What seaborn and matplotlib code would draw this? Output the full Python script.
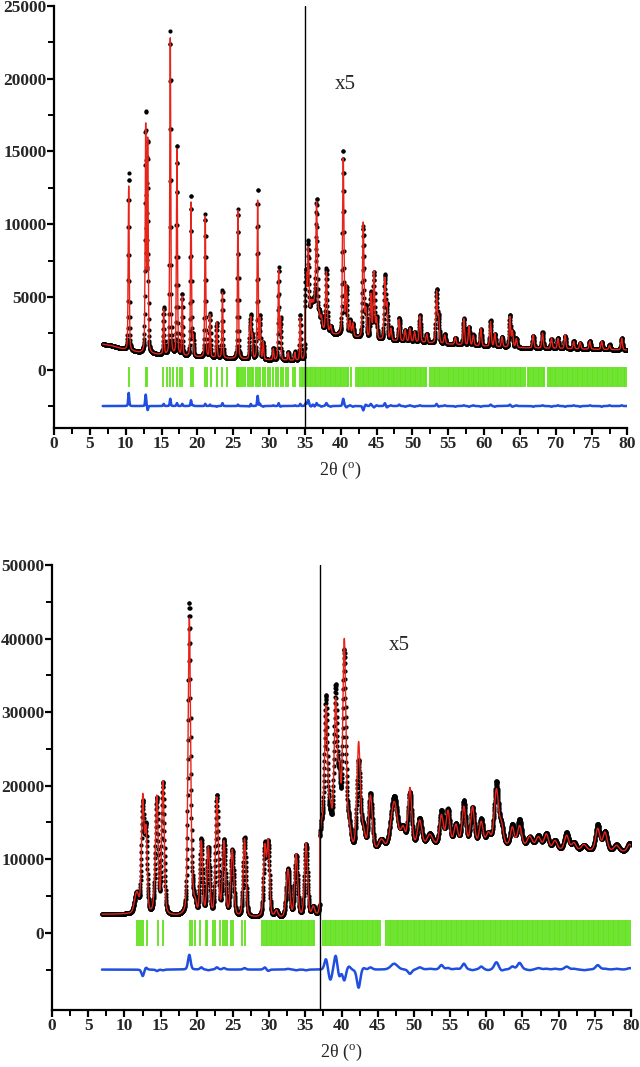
import numpy as np
import pandas as pd

import matplotlib
matplotlib.use("Agg")
import matplotlib.pyplot as plt
from matplotlib.ticker import FixedLocator, MultipleLocator

import seaborn as sns

# ---------------------------------------------------------------
# pattern 1 (top).  values above 35 deg are shown x5 (display units)
# ---------------------------------------------------------------
top_bg_x = [6.8, 8.0, 9.0, 10.0, 12.0, 14.0, 16.0, 20.0, 25.0, 30.0, 34.98,
            35.0, 36.0, 37.5, 39.0, 42.0, 46.0, 50.0, 55.0, 60.0, 65.0, 70.0, 80.0]
top_bg_y = [1750, 1650, 1500, 1350, 1150, 1050, 950, 850, 750, 650, 600,
            2900, 3200, 2700, 2400, 2200, 2000, 1900, 1750, 1600, 1500, 1450, 1350]

top_pos = [10.42, 12.79, 13.07, 15.30, 16.22, 17.15, 17.89, 19.11, 19.40, 21.10,
           21.76, 22.69, 23.50, 25.66, 27.30, 27.45, 27.66, 28.41, 28.73, 29.19,
           30.60, 31.34, 31.60, 32.68, 33.60, 34.35,
           35.15, 35.47, 35.85, 36.10, 36.35, 36.63, 37.00, 37.30, 38.00, 38.60,
           40.35, 40.80, 41.30, 41.70, 43.14, 43.50, 44.20, 44.63, 45.00, 46.16,
           46.45, 47.00, 48.16, 49.00, 49.65, 50.30, 51.05, 52.00, 53.37, 53.65,
           54.50, 56.00, 57.18, 57.90, 58.50, 59.55, 60.90, 61.50, 62.50, 63.60,
           63.95, 64.50, 66.85, 68.15, 69.40, 70.30, 71.30, 72.50, 73.40, 74.75,
           76.40, 77.50, 79.20]
top_calc = [11300, 15600, 14600, 3100, 21800, 14300, 4100, 10700, 1300, 9700,
            2900, 2450, 4500, 10200, 1500, 2600, 1600, 11000, 2700, 1200,
            750, 6100, 2800, 550, 550, 2950,
            3500, 5200, 1300, 1200, 1400, 8400, 900, 800, 4100, 500,
            12200, 3300, 1000, 900, 7900, 1900, 3000, 4600, 1400, 4200,
            2400, 800, 1500, 800, 900, 700, 1800, 600, 3500, 1800,
            600, 500, 1800, 1300, 700, 1200, 1700, 900, 700, 2100,
            1100, 600, 900, 1050, 700, 700, 950, 500, 450, 550,
            550, 300, 800]
top_obs = [12200, 16400, 14300, 3250, 22300, 14500, 4250, 11100, 1350, 9850,
           3000, 2400, 4700, 10300, 1450, 2750, 1600, 11700, 2850, 1150,
           800, 6300, 2750, 550, 600, 3100,
           3700, 5600, 1250, 1300, 1350, 8600, 950, 750, 4300, 450,
           12700, 3200, 1050, 850, 7600, 2000, 3150, 4500, 1450, 4400,
           2300, 850, 1600, 750, 950, 650, 1850, 600, 3650, 1750,
           650, 450, 1850, 1250, 750, 1150, 1800, 850, 700, 2200,
           1050, 650, 850, 1100, 650, 750, 900, 550, 400, 600,
           500, 350, 850]
top_fwhm = [0.17] * 26 + [0.24] * 53

top_refl = [float(v) for v in """
10.4 12.8 12.95 15.25 15.7 16.2 16.6 17.1 17.55 17.85 19.15 19.45 21.05 21.3
21.95 22.7 23.4 24.1 25.55 25.7 25.85 26.1 26.4 26.65 27.1 27.4 27.65 27.8
28.2 28.45 28.8 29.2 29.5 29.9 30.2 30.6 30.95 31.3 31.6 32.0 32.4 32.7 33.4
33.6 34.3 34.55 34.8 35.0 35.25 35.45 35.7 35.9 36.15 36.4 36.6 36.85 37.1
37.3 37.55 37.8 38.0 38.25 38.5 38.7 38.95 39.2 39.4 39.65 39.9 40.1 40.35
40.6 40.85 41.05 41.45 42.1 42.35 42.6 42.8 43.05 43.3 43.5 43.75 44.0 44.25
44.45 44.7 44.95 45.2 45.4 45.65 45.9 46.1 46.35 46.6 46.8 47.05 47.3 47.5
47.75 48.0 48.2 48.45 48.7 48.9 49.15 49.4 49.6 49.85 50.1 50.3 50.55 50.8
51.0 51.25 51.5 51.7 51.95 52.5 52.7 52.95 53.2 53.4 53.65 53.9 54.1 54.35
54.7 54.9 55.15 55.4 55.6 55.85 56.1 56.3 56.55 56.8 57.0 57.25 57.5 57.7
57.95 58.2 58.4 58.65 58.9 59.1 59.35 59.6 59.8 60.05 60.3 60.5 60.75 61.0
61.2 61.45 61.7 61.9 62.15 62.4 62.6 62.85 63.1 63.3 63.55 63.8 64.0 64.25
64.5 64.7 64.95 65.2 65.4 65.65 66.1 66.3 66.55 66.8 67.0 67.25 67.5 67.7
67.95 68.2 68.4 68.95 69.2 69.4 69.65 69.9 70.1 70.35 70.6 70.8 71.05 71.3
71.5 71.75 72.0 72.2 72.45 72.7 72.9 73.15 73.4 73.6 73.85 74.1 74.3 74.55
74.8 75.0 75.25 75.5 75.7 75.95 76.2 76.4 76.65 76.9 77.1 77.35 77.6 77.8
78.05 78.3 78.5 78.75 79.0 79.2 79.45 79.7 79.9
""".split()]

# ---------------------------------------------------------------
# pattern 2 (bottom).  values above 37 deg are shown x5
# ---------------------------------------------------------------
bot_bg_x = [6.9, 10.5, 12.0, 17.0, 20.0, 28.0, 32.0, 36.98,
            37.0, 40.0, 45.0, 50.0, 56.0, 62.0, 70.0, 80.0]
bot_bg_y = [2500, 2500, 2400, 2200, 2100, 2000, 1900, 2000,
            11000, 11000, 10800, 11500, 12000, 11800, 11200, 11000]

bot_pos = [11.70, 12.53, 12.98, 14.30, 14.50, 15.33, 18.97, 19.45, 19.80, 20.62,
           21.60, 22.78, 23.76, 24.90, 26.60, 29.40, 29.87, 31.00, 32.60, 33.74,
           35.10, 36.10,
           37.25, 37.85, 38.45, 39.18, 39.70, 40.38, 41.00, 42.36, 43.00, 44.00,
           45.50, 47.27, 48.50, 49.45, 50.80, 52.20, 53.80, 54.70, 55.80, 56.90,
           58.10, 59.30, 60.30, 61.40, 62.10, 63.60, 64.60, 66.00, 67.20, 68.30,
           69.50, 71.10, 72.10, 73.50, 75.40, 76.40, 78.00, 79.80]
bot_calc = [2800, 15500, 11000, 3000, 14000, 18000, 40500, 2000, 1500, 10000,
            9200, 16000, 10000, 9000, 10600, 9300, 10000, 900, 6500, 8500,
            10000, 1200,
            3000, 19000, 5000, 19500, 9000, 28000, 3000, 14500, 2500, 7500,
            1500, 6500, 2500, 8000, 3500, 1500, 4000, 4500, 2500, 5000,
            5000, 3000, 1500, 7500, 2500, 2500, 2800, 1500, 1500, 2000,
            1200, 2000, 1000, 800, 3000, 2500, 800, 1000]
bot_obs = [2800, 14600, 11300, 3000, 13800, 17900, 42500, 2000, 1500, 10300,
           9100, 16300, 10200, 9000, 10800, 9600, 9800, 900, 6600, 8400,
           9900, 1200,
           3000, 20500, 3500, 21500, 8000, 26500, 3500, 12000, 2800, 7800,
           1500, 7300, 2500, 7400, 3800, 1600, 4600, 4700, 2600, 5800,
           4900, 3400, 1400, 8500, 2300, 2900, 3700, 1400, 1700, 2100,
           1300, 2400, 1100, 700, 3600, 2600, 900, 1200]
bot_fwhm = [0.7, 0.4, 0.4, 0.5, 0.4, 0.42, 0.42, 0.35, 0.35, 0.42,
            0.45, 0.45, 0.48, 0.5, 0.45, 0.42, 0.42, 0.5, 0.55, 0.48,
            0.48, 0.45,
            0.45, 0.5, 0.55, 0.5, 0.45, 0.5, 0.6, 0.55, 0.6, 0.6,
            0.9, 1.1, 0.7, 0.6, 0.7, 0.9, 0.6, 0.6, 0.6, 0.6,
            0.6, 0.6, 0.7, 0.7, 0.6, 0.6, 0.7, 0.8, 0.8, 0.7,
            0.7, 0.7, 0.7, 0.8, 0.7, 0.7, 0.8, 0.7]

bot_refl = [float(v) for v in """
11.8 12.05 12.3 12.6 13.1 14.7 15.4 19.05 19.4 19.75 20.4 21.3 21.45 22.2 22.5
23.2 23.6 23.9 24.2 24.7 25.0 26.3 26.65 29.0 29.25 29.5 29.7 29.95 30.2 30.4
30.65 30.9 31.1 31.35 31.6 31.8 32.05 32.3 32.5 32.75 33.0 33.2 33.45 33.7
33.9 34.15 34.4 34.6 34.85 35.1 35.3 35.55 35.8 36.0 36.2 37.4 37.65 37.9
38.1 38.35 38.6 38.8 39.05 39.3 39.5 39.75 40.0 40.2 40.45 40.7 40.9 41.15
41.4 41.6 41.85 42.1 42.3 42.55 42.8 43.0 43.25 43.5 43.7 43.95 44.2 44.4
44.65 44.9 45.1 45.3 46.2 46.45 46.7 46.9 47.15 47.4 47.6 47.85 48.1 48.3
48.55 48.8 49.0 49.25 49.5 49.7 49.95 50.2 50.4 50.65 50.9 51.1 51.35 51.6
51.8 52.05 52.3 52.5 52.75 53.0 53.2 53.45 53.7 53.9 54.15 54.4 54.6 54.85
55.1 55.3 55.55 55.8 56.0 56.25 56.5 56.7 56.95 57.2 57.4 57.65 57.9 58.1
58.35 58.6 58.8 59.05 59.3 59.5 59.75 60.0 60.2 60.45 60.7 60.9 61.15 61.4
61.6 61.85 62.1 62.3 62.55 62.8 63.0 63.25 63.5 63.7 63.95 64.2 64.4 64.65
64.9 65.1 65.35 65.6 65.8 66.05 66.3 66.5 66.75 67.0 67.2 67.45 67.7 67.9
68.15 68.4 68.6 68.85 69.1 69.3 69.55 69.8 70.0 70.25 70.5 70.7 70.95 71.2
71.4 71.65 71.9 72.1 72.35 72.6 72.8 73.05 73.3 73.5 73.75 74.0 74.2 74.45
74.7 74.9 75.15 75.4 75.6 75.85 76.1 76.3 76.55 76.8 77.0 77.25 77.5 77.7
77.95 78.2 78.4 78.65 78.9 79.1 79.35 79.6 79.85
""".split()]

RED = "#e8231a"
GREEN = "#62e21e"
BLUE = "#1f4ee0"

sns.set_theme(style="ticks")
plt.rcParams["font.family"] = ["Liberation Serif", "DejaVu Serif"]
plt.rcParams["mathtext.fontset"] = "stix"


def _profile(x, bg_x, bg_y, pos, amp, fwhm):
    """
    Background line plus pseudo-Voigt peaks read from the picture.
    """
    y = np.interp(x, bg_x, bg_y)
    for p, a, w in zip(pos, amp, fwhm):
        t = (x - p) / w
        gauss = np.exp(-4 * np.log(2) * t ** 2)
        lorentz = 1 / (1 + 4 * t ** 2)
        y = y + a * (0.7 * gauss + 0.3 * lorentz)
    return y


def _draw_panel(ax, bg_x, bg_y, pos, calc, obs, fwhm, refl, break_x,
                refl_span, diff_offset, text_xy):
    x = np.round(np.arange(bg_x[0], 80.0001, 0.02), 3)
    y_calc = _profile(x, bg_x, bg_y, pos, calc, fwhm)
    y_obs = _profile(x, bg_x, bg_y, pos, obs, fwhm)
    df = pd.DataFrame({"x": x, "obs": y_obs, "calc": y_calc,
                       "diff": y_obs - y_calc + diff_offset})

    # reflection markers
    ax.vlines(refl, refl_span[0], refl_span[1], colors=GREEN, linewidth=1.3)

    sns.scatterplot(x="x", y="obs", data=df, ax=ax, color="black", s=9,
                    linewidth=0, zorder=3)
    sns.lineplot(x="x", y="calc", data=df, ax=ax, color=RED, linewidth=1.0,
                 estimator=None, sort=False, zorder=4)
    sns.lineplot(x="x", y="diff", data=df, ax=ax, color=BLUE, linewidth=1.8,
                 estimator=None, sort=False, zorder=3)

    # scale change marker
    ax.axvline(break_x, color="black", linewidth=1.0, zorder=5)
    ax.text(text_xy[0], text_xy[1], "x5", fontsize=15, ha="center", va="center")


def _style_axes(ax, ymin, ymax, ymajor, yminor):
    ax.set_xlim(0, 80)
    ax.set_ylim(ymin, ymax)
    ax.xaxis.set_major_locator(MultipleLocator(5))
    ax.xaxis.set_minor_locator(MultipleLocator(2.5))
    ax.yaxis.set_major_locator(FixedLocator(ymajor))
    ax.yaxis.set_minor_locator(FixedLocator(yminor))
    for side in ["top", "right"]:
        ax.spines[side].set_visible(False)
    for side in ["left", "bottom"]:
        ax.spines[side].set_linewidth(1.6)
        ax.spines[side].set_color("black")
    ax.tick_params(which="major", length=5, width=1.6, direction="out",
                   color="black", pad=0.5)
    ax.tick_params(which="minor", length=4, width=1.4, direction="out",
                   color="black")
    for lab in ax.get_xticklabels() + ax.get_yticklabels():
        lab.set_fontweight("bold")
        lab.set_fontsize(12.5)
    ax.set_xlabel("2θ ($^{\\mathregular{o}}$)", fontsize=13, labelpad=6)
    ax.set_ylabel("")


fig = plt.figure(figsize=(6.4, 10.67), dpi=100)
ax_top = fig.add_axes([0.0844, 0.599, 0.896, 0.3955])
ax_bot = fig.add_axes([0.0813, 0.0534, 0.9047, 0.417])

_draw_panel(ax_top, top_bg_x, top_bg_y, top_pos, top_calc, top_obs, top_fwhm,
            top_refl, 35, (200, -1200), -2500, (40.6, 19600))
_style_axes(ax_top, -4000, 25000, [0, 5000, 10000, 15000, 20000, 25000],
            [-2500, 2500, 7500, 12500, 17500, 22500])

_draw_panel(ax_bot, bot_bg_x, bot_bg_y, bot_pos, bot_calc, bot_obs, bot_fwhm,
            bot_refl, 37, (1800, -1800), -5000, (48.0, 39000))
_style_axes(ax_bot, -10500, 50000, [0, 10000, 20000, 30000, 40000, 50000],
            [-5000, 5000, 15000, 25000, 35000, 45000])

plt.savefig("out.png", dpi=100)
